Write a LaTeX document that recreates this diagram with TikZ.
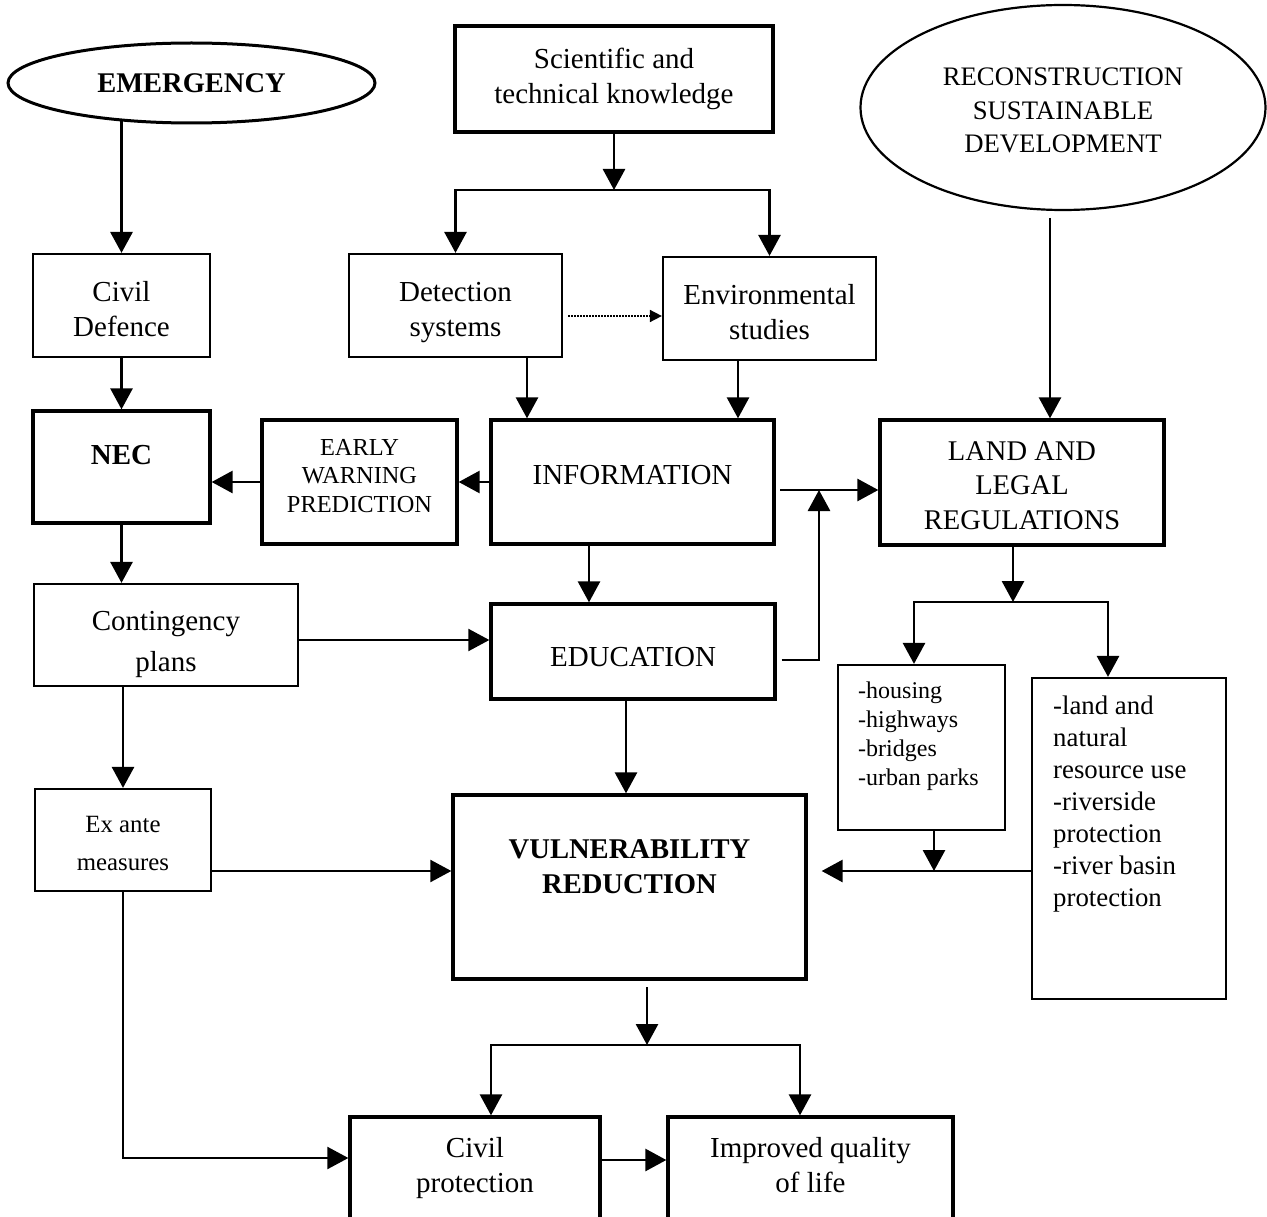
\documentclass[tikz,border=0pt]{standalone}
\usepackage{fontspec}
\setmainfont{Liberation Serif}
\usetikzlibrary{arrows.meta,shapes.geometric,calc}
\begin{document}
\begin{tikzpicture}[x=1pt,y=-1pt,
  box/.style={draw, line width=2.2pt, rectangle, inner sep=0pt},
  tbox/.style={box, line width=3.3pt},
  lbl/.style={inner sep=0pt, align=center, font=\fontsize{29}{35}\selectfont},
  conn/.style={line width=2.8pt, line join=miter},
  arr/.style={conn, -{Triangle[length=21pt,width=22pt]}},
  dotarr/.style={line width=1.6pt, dash pattern=on 1.6pt off 1.4pt,
    -{Triangle[length=12pt,width=12pt]}},
]
\useasboundingbox (0,0) rectangle (1267,1217);
\clip (0,0) rectangle (1267,1217);

% ---------- nodes ----------
\node[draw, ellipse, line width=3pt, inner sep=0pt, minimum width=367pt, minimum height=80pt,
  font=\bfseries\fontsize{28.5}{34}\selectfont] (emerg) at (191.5,83) {EMERGENCY};
\node[tbox, minimum width=318pt, minimum height=106pt] (sci) at (614,79) {};
\node[lbl] (sciT) at (614,79) {Scientific and\\technical knowledge};
\node[draw, ellipse, line width=2.2pt, inner sep=0pt, minimum width=405pt, minimum height=205pt]
  (recon) at (1063,107.5) {};
\node[lbl, font=\fontsize{26.7}{33.5}\selectfont] (reconT) at (1063,110.5)
  {RECONSTRUCTION\\SUSTAINABLE\\DEVELOPMENT};

\node[box, minimum width=177pt, minimum height=103pt] (cdef) at (121.5,305.5) {};
\node[lbl] (cdefT) at (121.5,309.5) {Civil\\Defence};
\node[box, minimum width=213pt, minimum height=103pt] (det) at (455.5,305.5) {};
\node[lbl] (detT) at (455.5,312.5) {Detection\\systems};
\node[box, minimum width=213pt, minimum height=103pt] (env) at (769.5,308.5) {};
\node[lbl] (envT) at (769.5,312.5) {Environmental\\studies};

\node[tbox, minimum width=177pt, minimum height=112pt] (nec) at (121.5,467) {};
\node[lbl, font=\bfseries\fontsize{29}{35}\selectfont] (necT) at (121.5,455) {NEC};
\node[tbox, minimum width=195pt, minimum height=124pt] (ewp) at (359.5,482) {};
\node[lbl, font=\fontsize{24.4}{28.5}\selectfont] (ewpT) at (359.5,476)
  {EARLY\\WARNING\\PREDICTION};
\node[tbox, minimum width=283pt, minimum height=124pt] (info) at (632.5,482) {};
\node[lbl] (infoT) at (632.5,475) {INFORMATION};
\node[tbox, minimum width=284pt, minimum height=125pt] (land) at (1022,482.5) {};
\node[lbl, font=\fontsize{28.5}{34.5}\selectfont] (landT) at (1022,485.5)
  {LAND AND\\LEGAL\\REGULATIONS};

\node[box, minimum width=264pt, minimum height=102pt] (cont) at (166,635) {};
\node[lbl, font=\fontsize{29}{41}\selectfont] (contT) at (166,644) {Contingency\\plans};
\node[tbox, minimum width=284pt, minimum height=95pt] (edu) at (633,651.5) {};
\node[lbl] (eduT) at (633,657) {EDUCATION};

\node[box, minimum width=167pt, minimum height=165pt] (hous) at (921.5,747.5) {};
\node[lbl, align=left, anchor=north west, font=\fontsize{24}{29}\selectfont] (housT) at (858,682)
  {-housing\\-highways\\-bridges\\-urban parks};
\node[box, minimum width=194pt, minimum height=321pt] (landb) at (1129,838.5) {};
\node[lbl, align=left, anchor=north west, font=\fontsize{26.8}{32}\selectfont] (landbT) at (1053,696)
  {-land and\\natural\\resource use\\-riverside\\protection\\-river basin\\protection};

\node[box, minimum width=176pt, minimum height=102pt] (exa) at (123,840) {};
\node[lbl, font=\fontsize{24.8}{38}\selectfont] (exaT) at (123,843) {Ex ante\\measures};
\node[tbox, minimum width=353pt, minimum height=184pt] (vuln) at (629.5,887) {};
\node[lbl, font=\bfseries\fontsize{28.6}{35}\selectfont] (vulnT) at (629.5,867)
  {VULNERABILITY\\REDUCTION};

\node[tbox, minimum width=250pt, minimum height=120pt] (cprot) at (475,1177) {};
\node[lbl, anchor=north] (cprotT) at (475,1137) {Civil\\protection};
\node[tbox, minimum width=285pt, minimum height=120pt] (iql) at (810.5,1177) {};
\node[lbl, anchor=north] (iqlT) at (810.5,1137) {Improved quality\\of life};

% ---------- helper coordinates ----------
\coordinate (s1) at (614,190);
\coordinate (xa) at (527,0);
\coordinate (xb) at (738,0);
\coordinate (xc) at (1050,218);
\coordinate (xd) at (589,0);
\coordinate (xe) at (123,0);
\coordinate (s2) at (1013,602);
\coordinate (xf) at (914,0);
\coordinate (xg) at (1108,0);
\coordinate (xh) at (626,0);
\coordinate (hj) at (934,871);
\coordinate (vb) at (647,987);
\coordinate (s3) at (647,1045);
\coordinate (xi) at (491,0);
\coordinate (xj) at (800,0);
\coordinate (xk) at (123,1158);
\coordinate (yl) at (0,1160);
\coordinate (ia) at (780,490);
\coordinate (ej) at (819,490);
\coordinate (ea) at ($(edu.east)+(5,8.5)$);
\coordinate (dd) at ($(det.east)+(5,10.5)$);
\coordinate (ca) at ($(cont.east)+(0,5)$);
\coordinate (ex1) at ($(exa.east)+(0,31)$);
\coordinate (vt) at ($(vuln.east |- hj)+(14,0)$);

% ---------- connectors ----------
\draw[arr, line width=3.2pt] ($(emerg.south -| cdef.north)+(0,-3)$) -- (cdef.north);
\draw[arr] (sci.south) -- (s1);
\draw[arr] (s1) -| (det.north);
\draw[arr] (s1) -| (env.north);
\draw[dotarr] (dd) -- (dd -| env.west);
\draw[arr] (cdef.south) -- (nec.north);
\draw[arr] (det.south -| xa) -- (info.north -| xa);
\draw[arr] (env.south -| xb) -- (info.north -| xb);
\draw[arr] (xc) -- (land.north -| xc);
\draw[arr] (info.west) -- (ewp.east);
\draw[arr] (ewp.west) -- (ewp.west -| nec.east);
\draw[arr] (ia) -- (ia -| land.west);
\draw[arr] (ea) -| (ej);
\draw[arr] (info.south -| xd) -- (edu.north -| xd);
\draw[arr] (nec.south) -- (cont.north -| nec.south);
\draw[arr, line width=2.2pt] (ca) -- (ca -| edu.west);
\draw[arr] (cont.south -| xe) -- (exa.north -| xe);
\draw[arr] (land.south -| s2) -- (s2);
\draw[arr] (s2) -| (hous.north -| xf);
\draw[arr] (s2) -| (landb.north -| xg);
\draw[arr] (edu.south -| xh) -- (vuln.north -| xh);
\draw[arr, line width=2.2pt] (ex1) -- (ex1 -| vuln.west);
\draw[arr] (hous.south -| hj) -- (hj);
\draw[arr] (landb.west |- hj) -- (vt);
\draw[arr] (vb) -- (s3);
\draw[arr] (s3) -| (cprot.north -| xi);
\draw[arr] (s3) -| (iql.north -| xj);
\draw[arr, line width=2.2pt] (exa.south -| xk) |- (cprot.west |- xk);
\draw[arr] (cprot.east |- yl) -- (iql.west |- yl);
\end{tikzpicture}
\end{document}
